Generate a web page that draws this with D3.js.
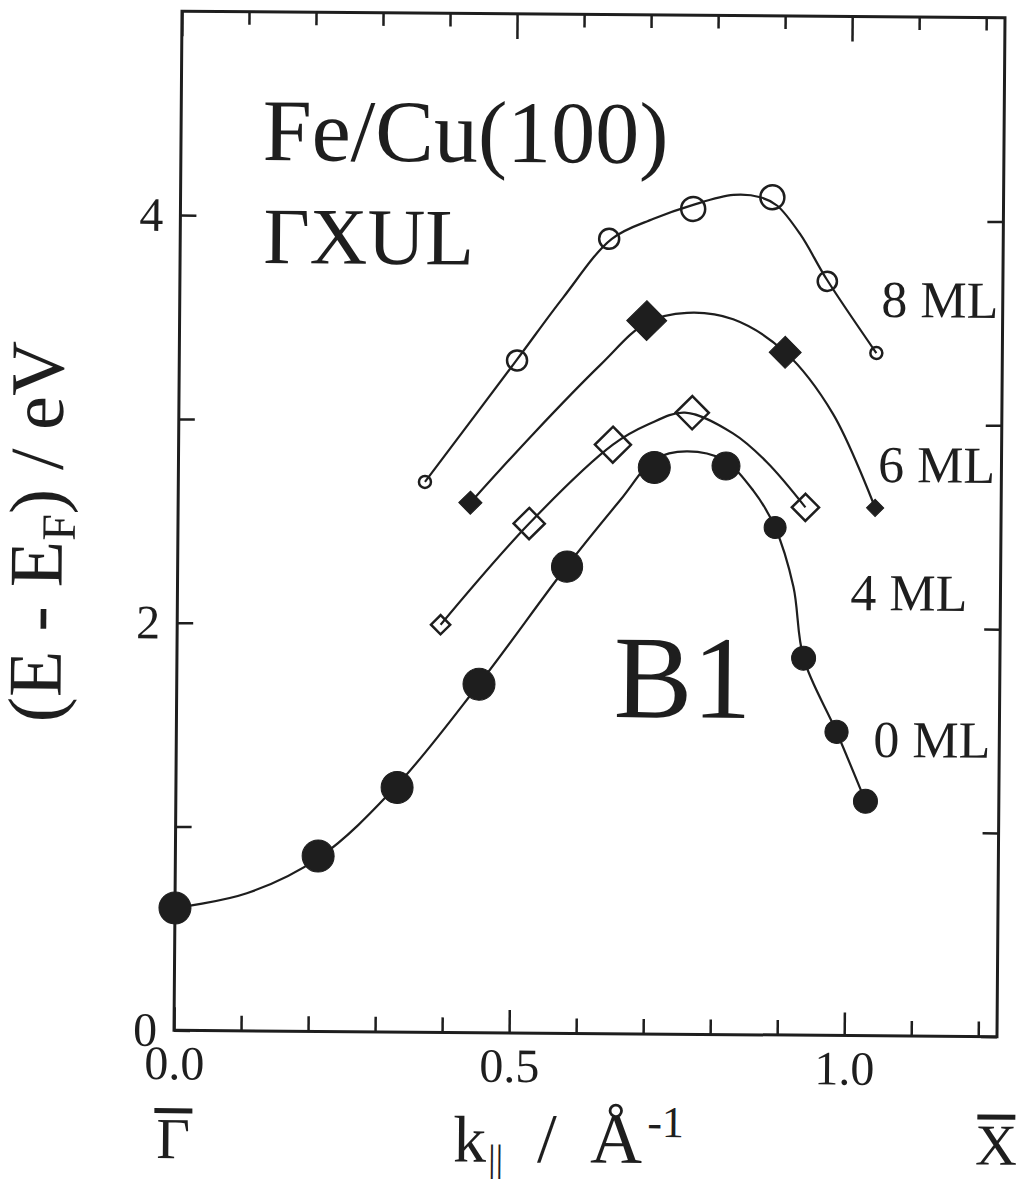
<!DOCTYPE html>
<html>
<head>
<meta charset="utf-8">
<script src="https://cdn.jsdelivr.net/npm/d3@7"></script>
<style>
  body { margin: 0; background: #fff; }
  svg { display: block; }
  text { font-family: "Liberation Serif", "Times New Roman", serif; fill: #1e1e1e; }
</style>
</head>
<body>
<svg id="chart"></svg>
<script>
// k values in 1/Å, energies in eV, w = relative peak weight (marker size)
let kX = 1.228

// 0 ML, filled circles
let k0 = [0.00, 0.213, 0.330, 0.451, 0.581, 0.710, 0.817, 0.891, 0.935, 0.985, 1.029]
let e0 = [0.60, 0.86, 1.20, 1.71, 2.29, 2.78, 2.79, 2.49, 1.85, 1.49, 1.15]
let w0 = [8, 8, 8, 8, 7.8, 8, 7, 5.5, 6, 5.8, 6]

// 4 ML, open diamonds
let k4 = [0.393, 0.524, 0.648, 0.766, 0.936]
let e4 = [2.00, 2.50, 2.89, 3.05, 2.59]
let w4 = [4.8, 7.8, 9, 8.3, 6.8]

// 6 ML, filled diamonds
let k6 = [0.436, 0.697, 0.904, 1.040]
let e6 = [2.60, 3.50, 3.35, 2.59]
let w6 = [5.8, 10, 8, 4.3]

// 8 ML, open circles
let k8 = [0.368, 0.504, 0.640, 0.765, 0.883, 0.966, 1.040]
let e8 = [2.70, 3.30, 3.90, 4.05, 4.11, 3.70, 3.35]
let w8 = [3, 5, 5, 6, 6, 4.8, 3]

// guide-to-the-eye curves
let fit0k = [0.000, 0.107, 0.215, 0.328, 0.450, 0.581, 0.660, 0.711, 0.758, 0.813, 0.858, 0.891, 0.919, 0.935, 0.985, 1.029]
let fit0e = [0.60, 0.675, 0.854, 1.204, 1.706, 2.293, 2.62, 2.82, 2.86, 2.82, 2.67, 2.49, 2.20, 1.85, 1.49, 1.15]
let fit4k = [0.393, 0.524, 0.648, 0.700, 0.755, 0.827, 0.878, 0.936]
let fit4e = [2.00, 2.50, 2.89, 2.99, 3.05, 2.95, 2.81, 2.59]
let fit6k = [0.436, 0.529, 0.628, 0.697, 0.757, 0.826, 0.904, 0.976, 1.040]
let fit6e = [2.60, 2.94, 3.28, 3.49, 3.54, 3.51, 3.35, 3.05, 2.59]
let fit8k = [0.368, 0.503, 0.572, 0.644, 0.706, 0.765, 0.825, 0.865, 0.890, 0.925, 0.965, 1.040]
let fit8e = [2.70, 3.30, 3.61, 3.90, 4.00, 4.07, 4.12, 4.11, 4.07, 3.93, 3.71, 3.35]

let seriesNames = ["0 ML", "4 ML", "6 ML", "8 ML"]
let labelK = [1.040, 1.004, 1.044, 1.047]
let labelE = [1.368, 2.088, 2.717, 3.527]

let xLabelTicks = [0.0, 0.5, 1.0]
let xMinorTicks = [0.1, 0.2, 0.3, 0.4, 0.6, 0.7, 0.8, 0.9, 1.1, 1.2]
let yLabelTicks = [0, 2, 4]
let yMinorTicks = [1, 3]

let w = 1026
let h = 1181
let padLeft = 178
let padRight = 1001
let padTop = 14.5
let padBottom = 1033.5
let ink = "#1e1e1e"

let svg = d3.select("#chart")
            .attr("width", w)
            .attr("height", h)

// the scanned figure sits slightly tilted
let g = svg.append("g")
           .attr("transform", "rotate(0.45, 589, 524)")

let xScale = d3.scaleLinear()
               .domain([0, kX])
               .range([padLeft, padRight])

let yScale = d3.scaleLinear()
               .domain([0, 5])
               .range([padBottom, padTop])

let sizeScale = d3.scaleLinear()
                  .domain([0, 10])
                  .range([0, 20])

let styleAxis = (sel) => {
  sel.select(".domain").remove()
  sel.selectAll(".tick line")
     .attr("stroke", ink)
     .attr("stroke-width", 2.5)
  sel.selectAll("text")
     .attr("font-size", 48)
     .attr("font-family", "'Liberation Serif', 'Times New Roman', serif")
     .attr("fill", ink)
}

let drawAxes = () => {
  let xMajor = d3.axisBottom(xScale)
                 .tickValues(xLabelTicks)
                 .tickSize(-23)
                 .tickPadding(15)
                 .tickFormat(d3.format(".1f"))
  let xMinor = d3.axisBottom(xScale)
                 .tickValues(xMinorTicks)
                 .tickSize(-15)
                 .tickFormat("")
  let xTopMajor = d3.axisTop(xScale)
                    .tickValues(xLabelTicks)
                    .tickSize(-25)
                    .tickFormat("")
  let xTopMinor = d3.axisTop(xScale)
                    .tickValues(xMinorTicks)
                    .tickSize(-13)
                    .tickFormat("")
  let yLeft = d3.axisLeft(yScale)
                .tickValues(yLabelTicks.concat(yMinorTicks))
                .tickSize(-16)
                .tickPadding(17)
                .tickFormat((d) => yLabelTicks.includes(d) ? d : "")
  let yRight = d3.axisRight(yScale)
                 .tickValues(yLabelTicks.concat(yMinorTicks))
                 .tickSize(-16)
                 .tickFormat("")

  g.append("g").attr("transform", "translate(0," + padBottom + ")").call(xMinor).call(styleAxis)
  g.append("g").attr("transform", "translate(0," + padBottom + ")").call(xMajor).call(styleAxis)
  g.append("g").attr("transform", "translate(0," + padTop + ")").call(xTopMinor).call(styleAxis)
  g.append("g").attr("transform", "translate(0," + padTop + ")").call(xTopMajor).call(styleAxis)
  g.append("g").attr("transform", "translate(" + padLeft + ",0)").call(yLeft).call(styleAxis)
  g.append("g").attr("transform", "translate(" + padRight + ",0)").call(yRight).call(styleAxis)

  g.append("rect")
   .attr("x", padLeft)
   .attr("y", padTop)
   .attr("width", padRight - padLeft)
   .attr("height", padBottom - padTop)
   .attr("fill", "none")
   .attr("stroke", ink)
   .attr("stroke-width", 3)
}

let diamond = (s) => "M0," + (-s) + "L" + s + ",0L0," + s + "L" + (-s) + ",0Z"

let drawSeries = (ks, es, ws, fk, fe, shape, filled) => {
  let pts = ks.map((k, i) => ({k: k, e: es[i], w: ws[i]}))
  let fit = fk.map((k, i) => ({k: k, e: fe[i]}))
  let line = d3.line()
               .x((d) => xScale(d.k))
               .y((d) => yScale(d.e))
               .curve(d3.curveCatmullRom.alpha(0.5))

  g.append("path")
   .datum(fit)
   .attr("d", line)
   .attr("fill", "none")
   .attr("stroke", ink)
   .attr("stroke-width", 2.2)

  let marks = g.append("g")
               .selectAll("path")
               .data(pts)
               .enter()
               .append("path")
               .attr("transform", (d) => "translate(" + xScale(d.k) + "," + yScale(d.e) + ")")
               .attr("fill", filled ? ink : "none")
               .attr("stroke", ink)
               .attr("stroke-width", filled ? 1 : 2.5)

  if (shape === "circle") {
    marks.attr("d", (d) => d3.symbol(d3.symbolCircle, Math.PI * Math.pow(sizeScale(d.w), 2))())
  } else {
    marks.attr("d", (d) => diamond(sizeScale(d.w)))
  }
}

let drawText = () => {
  g.append("text")
   .attr("x", xScale(0.122))
   .attr("y", yScale(4.273))
   .attr("font-size", 88)
   .text("Fe/Cu(100)")

  g.append("text")
   .attr("x", xScale(0.124))
   .attr("y", yScale(3.768))
   .attr("font-size", 80)
   .text("ΓXUL")

  g.append("text")
   .attr("x", xScale(0.652))
   .attr("y", yScale(1.554))
   .attr("font-size", 118)
   .text("B1")

  g.append("g")
   .selectAll("text")
   .data(seriesNames)
   .enter()
   .append("text")
   .attr("x", (d, i) => xScale(labelK[i]))
   .attr("y", (d, i) => yScale(labelE[i]))
   .attr("font-size", 52)
   .text((d) => d)

  // y title
  let yt = g.append("text")
            .attr("transform", "translate(62,536) rotate(-90)")
            .attr("text-anchor", "middle")
            .attr("font-size", 76)
  yt.append("tspan").text("(E - E")
  yt.append("tspan").attr("font-size", 48).attr("dy", 13).text("F")
  yt.append("tspan").attr("dy", -13).text(") / eV")

  // x title
  let cx = 582
  let ty = padBottom + 129
  let xt = g.append("text")
            .attr("y", ty)
            .attr("font-size", 66)
  xt.append("tspan").attr("x", cx - 124).text("k")
  xt.append("tspan").attr("x", cx - 89).attr("y", ty + 9).attr("font-size", 38).text("||")
  xt.append("tspan").attr("x", cx - 40).attr("y", ty).attr("font-size", 70).text("/")
  xt.append("tspan").attr("x", cx + 13).attr("font-size", 72).text("Å")
  xt.append("tspan").attr("x", cx + 70).attr("y", ty - 26).attr("font-size", 44).text("-1")

  // high symmetry points with overbars
  let sym = [["Γ", 0], ["X", kX]]
  sym.forEach((s) => {
    let px = xScale(s[1])
    g.append("text")
     .attr("x", px)
     .attr("y", padBottom + 128)
     .attr("text-anchor", "middle")
     .attr("font-size", 58)
     .text(s[0])
    g.append("rect")
     .attr("x", px - 19)
     .attr("y", padBottom + 78)
     .attr("width", 38)
     .attr("height", 5)
     .attr("fill", ink)
  })
}

drawAxes()
drawSeries(k0, e0, w0, fit0k, fit0e, "circle", true)
drawSeries(k4, e4, w4, fit4k, fit4e, "diamond", false)
drawSeries(k6, e6, w6, fit6k, fit6e, "diamond", true)
drawSeries(k8, e8, w8, fit8k, fit8e, "circle", false)
drawText()
</script>
</body>
</html>
